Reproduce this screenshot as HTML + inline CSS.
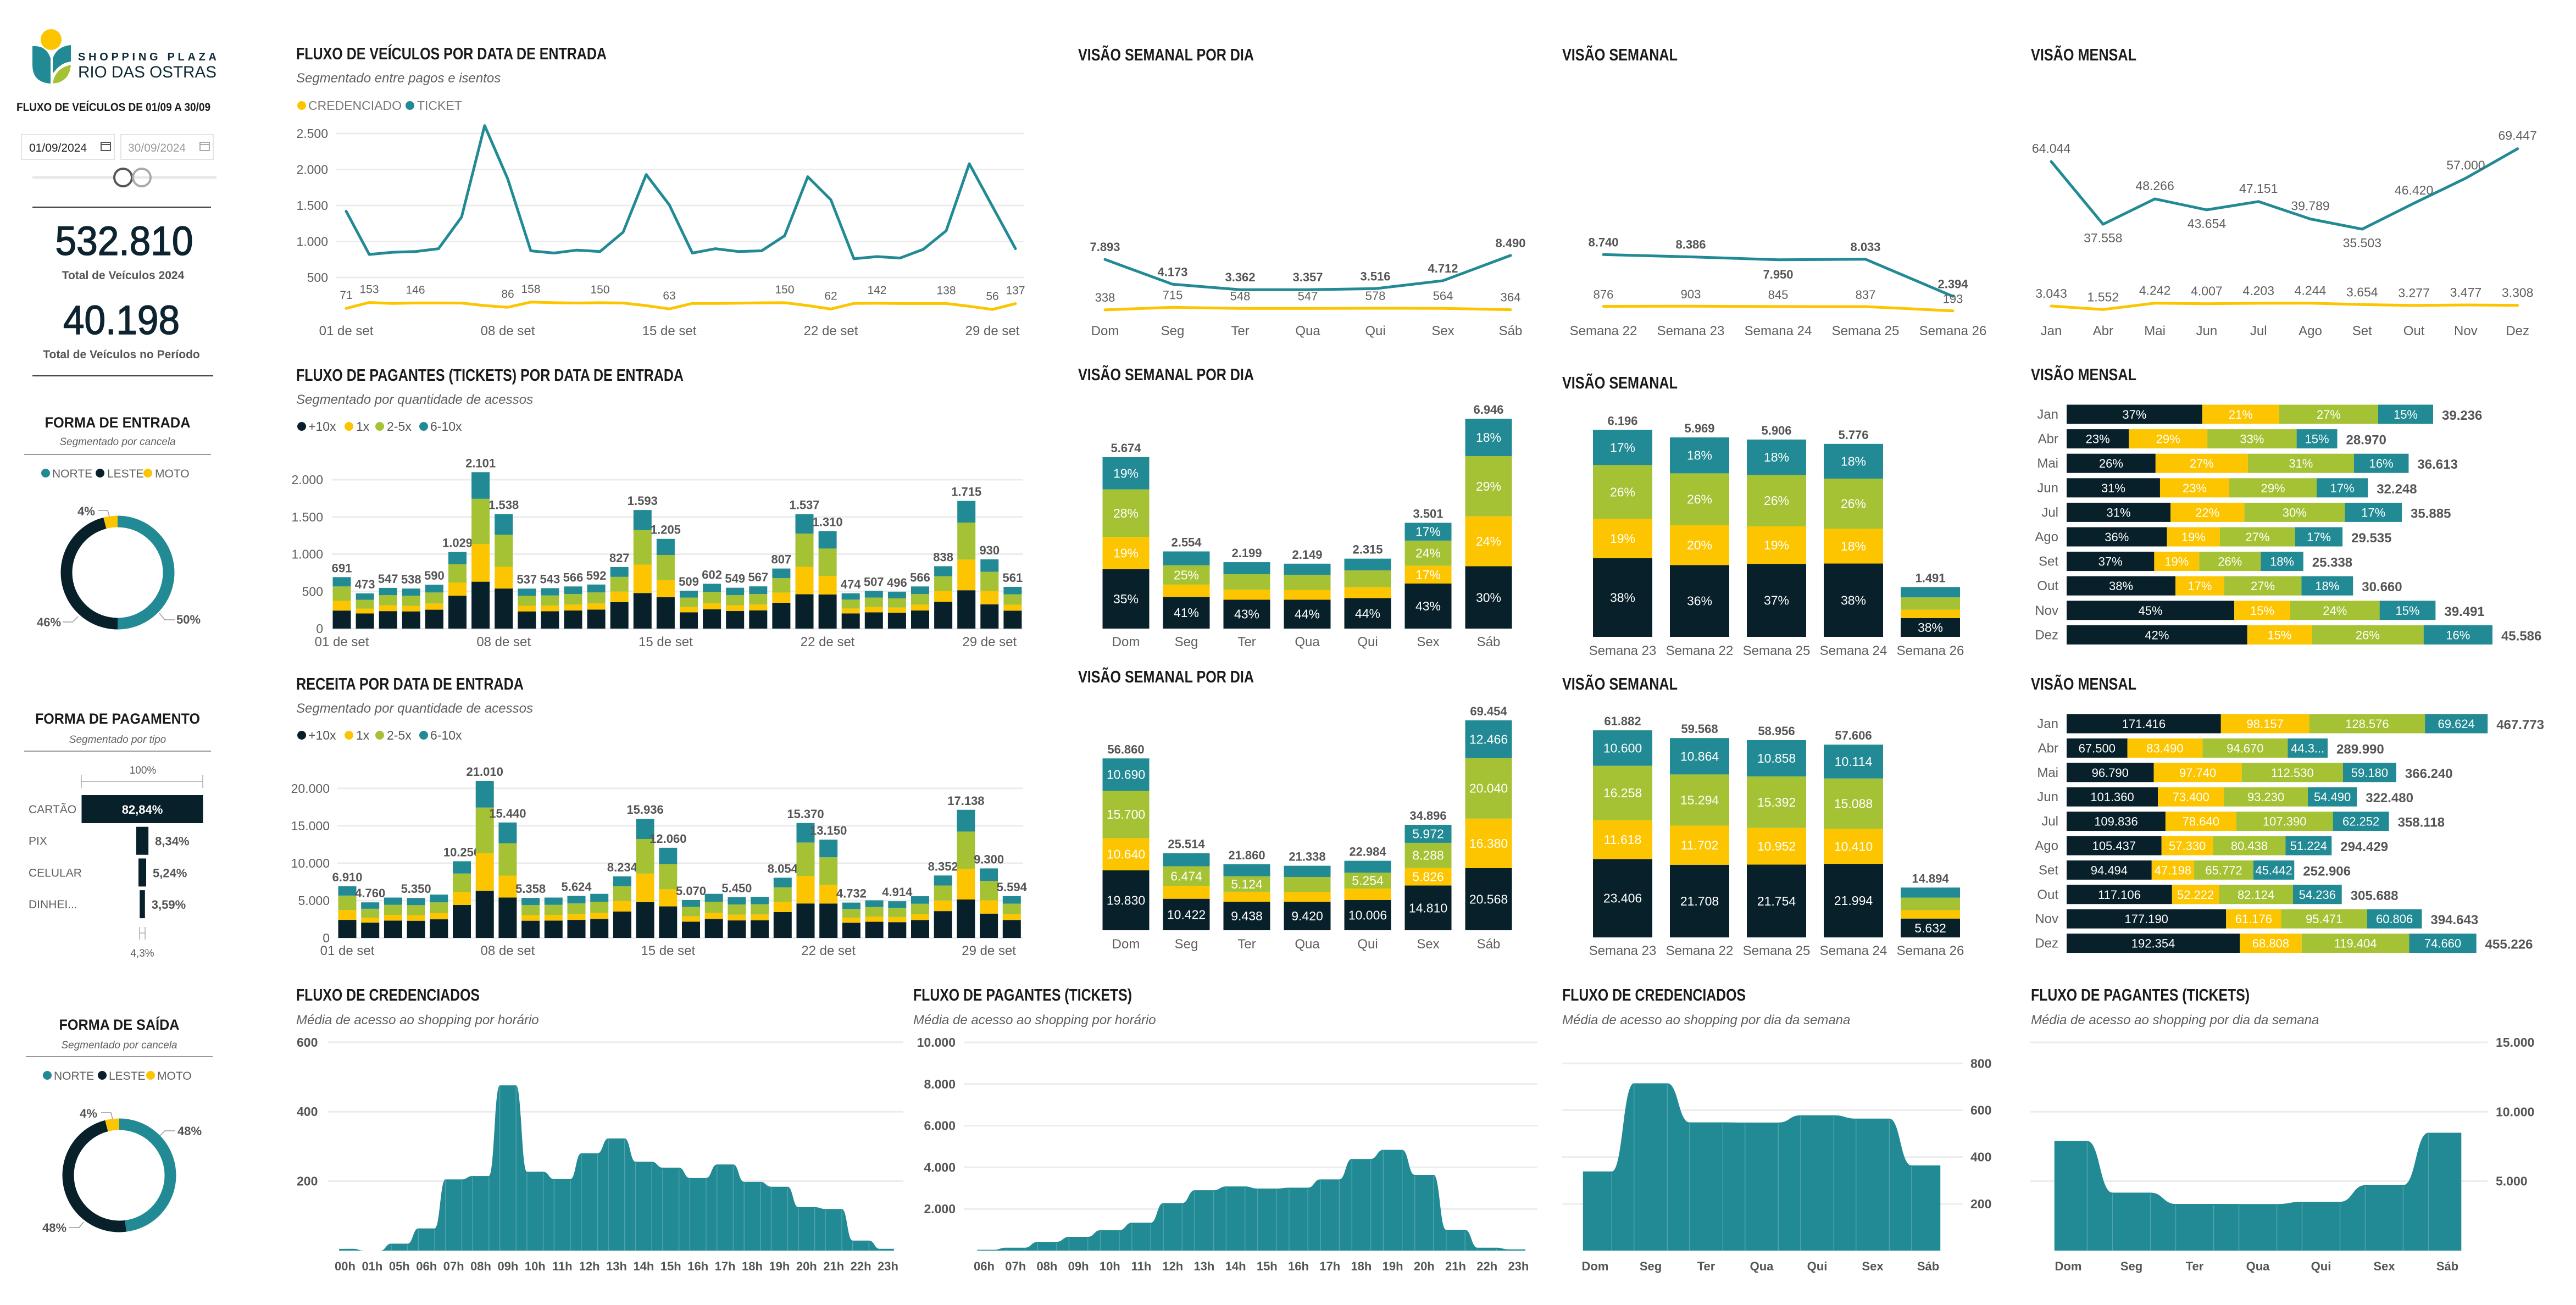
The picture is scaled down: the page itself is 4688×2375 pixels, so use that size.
<!DOCTYPE html>
<html><head><meta charset="utf-8"><title>Fluxo de Veículos - Shopping Plaza Rio das Ostras</title>
<style>
html,body{margin:0;padding:0;background:#fff;}
svg{display:block;font-family:"Liberation Sans",sans-serif;}
</style></head>
<body>
<svg id="dash" xmlns="http://www.w3.org/2000/svg" width="4688" height="2375" viewBox="0 0 4688 2375">
<rect x="0" y="0" width="4688" height="2375" fill="#ffffff"/>

<!-- LEFT PANEL -->
<g>
  <circle cx="93" cy="72" r="19" fill="#fcc500"/>
  <path d="M59,84 Q84,82 92,106 L92,152 Q59,150 59,118 Z" fill="#218a94"/>
  <path d="M96,106 Q104,84 129,82 L129,112 Q110,114 96,134 Z" fill="#218a94"/>
  <path d="M96,152 Q100,124 129,118 Q126,150 96,152 Z" fill="#a5c234"/>
  <text x="142" y="110" font-size="20" font-weight="bold" fill="#0d2b36" textLength="252" lengthAdjust="spacing">SHOPPING PLAZA</text>
  <text x="142" y="141" font-size="30" fill="#0d2b36" textLength="252" lengthAdjust="spacingAndGlyphs">RIO DAS OSTRAS</text>
</g>
<text x="30" y="202" font-size="21" font-weight="bold" fill="#1a1a1a" textLength="353" lengthAdjust="spacingAndGlyphs">FLUXO DE VEÍCULOS DE 01/09 A 30/09</text>
<g>
  <rect x="39" y="245" width="169" height="45" fill="#fff" stroke="#e3e3e3" stroke-width="2"/>
  <text x="53" y="276" font-size="21" fill="#222">01/09/2024</text>
  <rect x="184" y="259" width="17" height="15" fill="none" stroke="#555" stroke-width="2"/>
  <line x1="184" y1="263" x2="201" y2="263" stroke="#555" stroke-width="2"/>
</g>
<g>
  <rect x="220" y="245" width="168" height="45" fill="#fff" stroke="#e3e3e3" stroke-width="2"/>
  <text x="233" y="276" font-size="21" fill="#9a9a9a">30/09/2024</text>
  <rect x="364" y="259" width="17" height="15" fill="none" stroke="#aaa" stroke-width="2"/>
  <line x1="364" y1="263" x2="381" y2="263" stroke="#aaa" stroke-width="2"/>
</g>
<line x1="59" y1="323" x2="394" y2="323" stroke="#e8e8e8" stroke-width="5"/>
<circle cx="224" cy="323" r="16" fill="#fff" stroke="#555" stroke-width="4"/>
<circle cx="258" cy="323" r="16" fill="none" stroke="#aaa" stroke-width="4"/>
<line x1="59" y1="377" x2="384" y2="377" stroke="#333" stroke-width="2"/>
<text x="226" y="464" font-size="74" fill="#0d2430" stroke="#0d2430" stroke-width="1.5" text-anchor="middle" textLength="251" lengthAdjust="spacingAndGlyphs">532.810</text>
<text x="224" y="508" font-size="21" font-weight="bold" fill="#555" text-anchor="middle">Total de Veículos 2024</text>
<text x="221" y="608" font-size="74" fill="#0d2430" stroke="#0d2430" stroke-width="1.5" text-anchor="middle" textLength="212" lengthAdjust="spacingAndGlyphs">40.198</text>
<text x="221" y="652" font-size="21" font-weight="bold" fill="#555" text-anchor="middle">Total de Veículos no Período</text>
<line x1="59" y1="684" x2="388" y2="684" stroke="#333" stroke-width="2"/>

<text x="214" y="778" font-size="27" font-weight="bold" fill="#1a1a1a" text-anchor="middle" textLength="265" lengthAdjust="spacingAndGlyphs">FORMA DE ENTRADA</text>
<text x="214" y="810" font-size="19" font-style="italic" fill="#605e5c" text-anchor="middle">Segmentado por cancela</text>
<line x1="44" y1="827" x2="384" y2="827" stroke="#999" stroke-width="2"/>
<g>
  <circle cx="83" cy="861" r="8" fill="#218a94"/>
  <text x="95" y="869" font-size="21" fill="#605e5c">NORTE</text>
  <circle cx="182" cy="861" r="8" fill="#07202a"/>
  <text x="195" y="869" font-size="21" fill="#605e5c">LESTE</text>
  <circle cx="269" cy="861" r="8" fill="#fcc500"/>
  <text x="282" y="869" font-size="21" fill="#605e5c">MOTO</text>
</g>
<g>
  <text x="157" y="938" font-size="22" font-weight="bold" fill="#555" text-anchor="middle">4%</text>
  <polyline points="178,929 196,929 199,940" fill="none" stroke="#999" stroke-width="1.5"/>
  <text x="89" y="1140" font-size="22" font-weight="bold" fill="#555" text-anchor="middle">46%</text>
  <polyline points="114,1132 132,1132 142,1122" fill="none" stroke="#999" stroke-width="1.5"/>
  <text x="343" y="1135" font-size="22" font-weight="bold" fill="#555" text-anchor="middle">50%</text>
  <polyline points="318,1128 300,1128 290,1116" fill="none" stroke="#999" stroke-width="1.5"/>
</g>

<text x="214" y="1317" font-size="27" font-weight="bold" fill="#1a1a1a" text-anchor="middle" textLength="300" lengthAdjust="spacingAndGlyphs">FORMA DE PAGAMENTO</text>
<text x="214" y="1352" font-size="19" font-style="italic" fill="#605e5c" text-anchor="middle">Segmentado por tipo</text>
<line x1="44" y1="1367" x2="384" y2="1367" stroke="#999" stroke-width="2"/>
<text x="260" y="1216" font-size="1" fill="none"> </text>
<text x="260" y="1408" font-size="19" fill="#605e5c" text-anchor="middle">100%</text>
<g>
  <line x1="148" y1="1422" x2="369" y2="1422" stroke="#aaa" stroke-width="1.5"/>
  <line x1="148" y1="1410" x2="148" y2="1434" stroke="#aaa" stroke-width="1.5"/>
  <line x1="369" y1="1410" x2="369" y2="1434" stroke="#aaa" stroke-width="1.5"/>
</g>
<g>
  <line x1="254" y1="1687" x2="254" y2="1710" stroke="#aaa" stroke-width="1.5"/>
  <line x1="264" y1="1687" x2="264" y2="1710" stroke="#aaa" stroke-width="1.5"/>
  <line x1="254" y1="1698" x2="264" y2="1698" stroke="#aaa" stroke-width="1.5"/>
</g>
<text x="259" y="1741" font-size="19" fill="#605e5c" text-anchor="middle">4,3%</text>

<text x="217" y="1874" font-size="27" font-weight="bold" fill="#1a1a1a" text-anchor="middle" textLength="219" lengthAdjust="spacingAndGlyphs">FORMA DE SAÍDA</text>
<text x="217" y="1908" font-size="19" font-style="italic" fill="#605e5c" text-anchor="middle">Segmentado por cancela</text>
<line x1="47" y1="1923" x2="387" y2="1923" stroke="#999" stroke-width="2"/>
<g>
  <circle cx="86" cy="1957" r="8" fill="#218a94"/>
  <text x="98" y="1965" font-size="21" fill="#605e5c">NORTE</text>
  <circle cx="186" cy="1957" r="8" fill="#07202a"/>
  <text x="198" y="1965" font-size="21" fill="#605e5c">LESTE</text>
  <circle cx="274" cy="1957" r="8" fill="#fcc500"/>
  <text x="286" y="1965" font-size="21" fill="#605e5c">MOTO</text>
</g>
<g>
  <text x="161" y="2034" font-size="22" font-weight="bold" fill="#555" text-anchor="middle">4%</text>
  <polyline points="184,2025 202,2025 205,2037" fill="none" stroke="#999" stroke-width="1.5"/>
  <text x="345" y="2066" font-size="22" font-weight="bold" fill="#555" text-anchor="middle">48%</text>
  <polyline points="318,2058 300,2058 290,2068" fill="none" stroke="#999" stroke-width="1.5"/>
  <text x="99" y="2242" font-size="22" font-weight="bold" fill="#555" text-anchor="middle">48%</text>
  <polyline points="126,2234 144,2234 152,2224" fill="none" stroke="#999" stroke-width="1.5"/>
</g>

<!-- TITLES -->
<text x="539" y="108" font-size="31" font-weight="bold" fill="#1a1a1a" textLength="565" lengthAdjust="spacingAndGlyphs">FLUXO DE VEÍCULOS POR DATA DE ENTRADA</text>
<text x="539" y="150" font-size="24" font-style="italic" fill="#605e5c">Segmentado entre pagos e isentos</text>
<g>
  <circle cx="549" cy="192" r="8" fill="#fcc500"/>
  <text x="561" y="200" font-size="23" fill="#777">CREDENCIADO</text>
  <circle cx="746" cy="192" r="8" fill="#218a94"/>
  <text x="759" y="200" font-size="23" fill="#777">TICKET</text>
</g>
<text x="1962" y="110" font-size="31" font-weight="bold" fill="#1a1a1a" textLength="320" lengthAdjust="spacingAndGlyphs">VISÃO SEMANAL POR DIA</text>
<text x="2843" y="110" font-size="31" font-weight="bold" fill="#1a1a1a" textLength="210" lengthAdjust="spacingAndGlyphs">VISÃO SEMANAL</text>
<text x="3696" y="110" font-size="31" font-weight="bold" fill="#1a1a1a" textLength="192" lengthAdjust="spacingAndGlyphs">VISÃO MENSAL</text>

<text x="539" y="693" font-size="31" font-weight="bold" fill="#1a1a1a" textLength="705" lengthAdjust="spacingAndGlyphs">FLUXO DE PAGANTES (TICKETS) POR DATA DE ENTRADA</text>
<text x="539" y="735" font-size="24" font-style="italic" fill="#605e5c">Segmentado por quantidade de acessos</text>
<text x="1962" y="692" font-size="31" font-weight="bold" fill="#1a1a1a" textLength="320" lengthAdjust="spacingAndGlyphs">VISÃO SEMANAL POR DIA</text>
<text x="2843" y="707" font-size="31" font-weight="bold" fill="#1a1a1a" textLength="210" lengthAdjust="spacingAndGlyphs">VISÃO SEMANAL</text>
<text x="3696" y="692" font-size="31" font-weight="bold" fill="#1a1a1a" textLength="192" lengthAdjust="spacingAndGlyphs">VISÃO MENSAL</text>

<text x="539" y="1255" font-size="31" font-weight="bold" fill="#1a1a1a" textLength="414" lengthAdjust="spacingAndGlyphs">RECEITA POR DATA DE ENTRADA</text>
<text x="539" y="1297" font-size="24" font-style="italic" fill="#605e5c">Segmentado por quantidade de acessos</text>
<text x="1962" y="1242" font-size="31" font-weight="bold" fill="#1a1a1a" textLength="320" lengthAdjust="spacingAndGlyphs">VISÃO SEMANAL POR DIA</text>
<text x="2843" y="1255" font-size="31" font-weight="bold" fill="#1a1a1a" textLength="210" lengthAdjust="spacingAndGlyphs">VISÃO SEMANAL</text>
<text x="3696" y="1255" font-size="31" font-weight="bold" fill="#1a1a1a" textLength="192" lengthAdjust="spacingAndGlyphs">VISÃO MENSAL</text>

<text x="539" y="1821" font-size="31" font-weight="bold" fill="#1a1a1a" textLength="334" lengthAdjust="spacingAndGlyphs">FLUXO DE CREDENCIADOS</text>
<text x="539" y="1864" font-size="24" font-style="italic" fill="#605e5c">Média de acesso ao shopping por horário</text>
<text x="1662" y="1821" font-size="31" font-weight="bold" fill="#1a1a1a" textLength="398" lengthAdjust="spacingAndGlyphs">FLUXO DE PAGANTES (TICKETS)</text>
<text x="1662" y="1864" font-size="24" font-style="italic" fill="#605e5c">Média de acesso ao shopping por horário</text>
<text x="2843" y="1821" font-size="31" font-weight="bold" fill="#1a1a1a" textLength="334" lengthAdjust="spacingAndGlyphs">FLUXO DE CREDENCIADOS</text>
<text x="2843" y="1864" font-size="24" font-style="italic" fill="#605e5c">Média de acesso ao shopping por dia da semana</text>
<text x="3696" y="1821" font-size="31" font-weight="bold" fill="#1a1a1a" textLength="398" lengthAdjust="spacingAndGlyphs">FLUXO DE PAGANTES (TICKETS)</text>
<text x="3696" y="1864" font-size="24" font-style="italic" fill="#605e5c">Média de acesso ao shopping por dia da semana</text>

<g>
  <circle cx="549" cy="776" r="8" fill="#07202a"/>
  <text x="561" y="784" font-size="23" fill="#555">+10x</text>
  <circle cx="635" cy="776" r="8" fill="#fcc500"/>
  <text x="648" y="784" font-size="23" fill="#555">1x</text>
  <circle cx="691" cy="776" r="8" fill="#a5c234"/>
  <text x="704" y="784" font-size="23" fill="#555">2-5x</text>
  <circle cx="771" cy="776" r="8" fill="#218a94"/>
  <text x="783" y="784" font-size="23" fill="#555">6-10x</text>
</g>
<g>
  <circle cx="549" cy="1338" r="8" fill="#07202a"/>
  <text x="561" y="1346" font-size="23" fill="#555">+10x</text>
  <circle cx="635" cy="1338" r="8" fill="#fcc500"/>
  <text x="648" y="1346" font-size="23" fill="#555">1x</text>
  <circle cx="691" cy="1338" r="8" fill="#a5c234"/>
  <text x="704" y="1346" font-size="23" fill="#555">2-5x</text>
  <circle cx="771" cy="1338" r="8" fill="#218a94"/>
  <text x="783" y="1346" font-size="23" fill="#555">6-10x</text>
</g>
</svg>

<script>
// ===== DATA =====
const entradaValues = [50, 46, 4];
const saidaValues = [48, 48, 4];
const pagCats = ['CARTÃO', 'PIX', 'CELULAR', 'DINHEI...'];
const pagVals = [82.84, 8.34, 5.24, 3.59];

const c1Ticket = [1420,820,850,860,900,1340,2610,1870,870,840,880,860,1130,1930,1510,840,900,860,870,1080,1900,1580,760,790,770,890,1150,2080,1490,900];
const c1Cred = [71,153,140,146,146,145,110,86,158,150,145,150,145,110,63,140,140,143,148,150,110,62,140,142,138,138,138,100,56,137];
const c1CredShown = [0,1,3,7,8,11,14,19,21,23,26,28,29];
const c1Ticks = [500,1000,1500,2000,2500];
const dayLabels = ['01 de set','08 de set','15 de set','22 de set','29 de set'];
const dayLabelIdx = [0,7,14,21,28];

const weekdayCats = ['Dom','Seg','Ter','Qua','Qui','Sex','Sáb'];
const c2Ticket = [7893,4173,3362,3357,3516,4712,8490];
const c2Cred = [338,715,548,547,578,564,364];

const c3Cats = ['Semana 22','Semana 23','Semana 24','Semana 25','Semana 26'];
const c3Ticket = [8740,8386,7950,8033,2394];
const c3Cred = [876,903,845,837,193];
const c3LabelBelow = [0,0,1,0,0];

const monthCats = ['Jan','Abr','Mai','Jun','Jul','Ago','Set','Out','Nov','Dez'];
const c4Ticket = [64044,37558,48266,43654,47151,39789,35503,46420,57000,69447];
const c4Cred = [3043,1552,4242,4007,4203,4244,3654,3277,3477,3308];
const c4LabelBelow = [0,1,0,1,0,0,1,0,0,0];

const c5Dark = [242,203,235,231,254,442,630,538,231,233,243,255,356,478,422,219,259,236,244,347,461,459,204,218,213,243,360,515,326,241];
const c5Yellow = [131,66,77,75,83,175,504,292,75,76,79,83,141,382,229,71,84,77,79,137,369,249,66,71,69,79,142,412,177,79];
const c5Green = [193,118,137,135,148,247,609,431,134,136,142,148,198,462,337,127,151,137,142,194,446,367,119,127,124,142,201,497,260,140];
const c5Teal = [125,86,98,97,105,165,358,277,97,98,102,106,132,271,217,92,108,99,102,129,261,235,85,91,90,102,135,291,167,101];
const c5Ticks = [0,500,1000,1500,2000];

const c6Dark = [2419,2047,2322,2300,2494,4410,6303,5404,2304,2322,2418,2537,3541,4781,4221,2180,2537,2344,2365,3463,4611,4603,2035,2163,2113,2399,3591,5141,3255,2405];
const c6Yellow = [1313,666,756,749,812,1744,5042,2934,750,756,787,826,1400,3825,2291,710,826,763,770,1369,3689,2499,662,704,688,781,1420,4113,1767,783];
const c6Green = [1935,1190,1350,1338,1450,2461,6093,4323,1340,1350,1406,1475,1976,4621,3377,1268,1475,1363,1375,1933,4457,3682,1183,1258,1229,1395,2004,4970,2604,1399];
const c6Teal = [1243,857,972,963,1044,1641,3572,2779,964,972,1013,1062,1317,2709,2171,912,1062,980,990,1289,2613,2366,852,905,884,1005,1337,2914,1674,1007];
const c6LabelShown = [1,1,0,1,0,1,1,1,1,0,1,0,1,1,1,1,0,1,0,1,1,1,1,0,1,0,1,1,1,1];
const c6Ticks = [0,5000,10000,15000,20000];

const c7Total = [5674,2554,2199,2149,2315,3501,6946];
const c7PDark = [35,41,43,44,44,43,30];
const c7PYellow = [19,16,15,15,16,17,24];
const c7PGreen = [28,25,23,23,24,24,29];
const c7PTeal = [19,18,18,17,17,17,18];

const c8Cats = ['Semana 23','Semana 22','Semana 25','Semana 24','Semana 26'];
const c8Total = [6196,5969,5906,5776,1491];
const c8PDark = [38,36,37,38,38];
const c8PYellow = [19,20,19,18,17];
const c8PGreen = [26,26,26,26,25];
const c8PTeal = [17,18,18,18,21];

const c9Total = [39236,28970,36613,32248,35885,29535,25338,30660,39491,45586];
const c9PDark = [37,23,26,31,31,36,37,38,45,42];
const c9PYellow = [21,29,27,23,22,19,19,17,15,15];
const c9PGreen = [27,33,31,29,30,27,26,27,24,26];
const c9PTeal = [15,15,16,17,17,17,18,18,15,16];

const c10Dark = [19830,10422,9438,9420,10006,14810,20568];
const c10Yellow = [10640,4275,3300,3288,3794,5826,16380];
const c10Green = [15700,6474,5124,4931,5254,8288,20040];
const c10Teal = [10690,4343,3998,3699,3930,5972,12466];

const c11Dark = [23406,21708,21754,21994,5632];
const c11Yellow = [11618,11702,10952,10410,2503];
const c11Green = [16258,15294,15392,15088,3755];
const c11Teal = [10600,10864,10858,10114,3004];

const c12Dark = [171416,67500,96790,101360,109836,105437,94494,117106,177190,192354];
const c12Yellow = [98157,83490,97740,73400,78640,57330,47198,52222,61176,68808];
const c12Green = [128576,94670,112530,93230,107390,80438,65772,82124,95471,119404];
const c12Teal = [69624,44330,59180,54490,62252,51224,45442,54236,60806,74660];

const hourCatsCred = ['00h','01h','05h','06h','07h','08h','09h','10h','11h','12h','13h','14h','15h','16h','17h','18h','19h','20h','21h','22h','23h'];
const c13Values = [5,0,20,64,205,215,476,227,206,280,323,256,239,209,248,198,184,125,120,29,5];
const c13Ticks = [200,400,600];
const hourCatsPag = ['06h','07h','08h','09h','10h','11h','12h','13h','14h','15h','16h','17h','18h','19h','20h','21h','22h','23h'];
const c14Values = [40,140,420,660,980,1340,2280,2900,3080,2980,3020,3420,4400,4840,3640,1000,140,60];
const c14Ticks = [2000,4000,6000,8000,10000];
const c15Values = [338,715,548,547,578,564,364];
const c15Ticks = [200,400,600,800];
const c16Values = [7893,4173,3362,3357,3516,4712,8490];
const c16Ticks = [5000,10000,15000];

// ===== HELPERS =====
const svg = document.getElementById('dash');
const NS = 'http://www.w3.org/2000/svg';
const COL = {dark:'#07202a', yellow:'#fcc500', green:'#a5c234', teal:'#218a94'};
const SEGC = [COL.dark, COL.yellow, COL.green, COL.teal];
function mk(tag, a){ const e = document.createElementNS(NS, tag); for (const k in a) e.setAttribute(k, a[k]); svg.appendChild(e); return e; }
function tx(s, a){ const e = mk('text', a); e.textContent = s; return e; }
function fmt(n){ return String(Math.round(n)).replace(/\B(?=(\d{3})+(?!\d))/g, '.'); }

function gridY(ticks, yf, x0, x1, lx, anchor, bold, prefix){
  ticks.forEach(t => {
    const l = mk('line', {x1:x0, x2:x1, y1:yf(t), y2:yf(t), stroke:'#ececec', 'stroke-width':3});
    
    
    const s = tx(fmt(t), {x:lx, y:yf(t)+8, 'font-size':23, 'text-anchor':anchor, fill:bold?'#555':'#605e5c', 'font-weight':bold?'bold':'normal'});
    
    
  });
}
function xLabels(labels, xf, y, bold, prefix, size){
  labels.forEach((c,i) => {
    const s = tx(c, {x:xf(i), y:y, 'font-size':size||24, 'text-anchor':'middle', fill:bold?'#555':'#605e5c', 'font-weight':bold?'bold':'normal'});
    
    
  });
}
function poly(vals, xf, yf, color, name){
  const d = vals.map((v,i) => (i?'L':'M') + xf(i).toFixed(1) + ',' + yf(v).toFixed(1)).join(' ');
  const p = mk('path', {d:d, fill:'none', stroke:color, 'stroke-width':5, 'stroke-linejoin':'round', 'stroke-linecap':'round'});
  
  
}
function vlabel(s, x, y, bold, name, color, size){
  const t = tx(s, {x:x, y:y, 'font-size':size||22, 'text-anchor':'middle', fill:color||'#555', 'font-weight':bold?'bold':'normal'});
  
  
}
// segs: array of 4 arrays (dark,yellow,green,teal); labelFn(k,i,val,h) -> string
function vstack(segs, xf, yf, bw, labelFn, totalShown, prefix){
  const n = segs[0].length;
  for (let i = 0; i < n; i++){
    let acc = 0;
    for (let k = 0; k < 4; k++){
      const v = segs[k][i];
      const y0 = yf(acc), y1 = yf(acc + v);
      const r = mk('rect', {x:xf(i)-bw/2, y:y1, width:bw, height:Math.max(0, y0-y1), fill:SEGC[k]});
      
      
      const lab = labelFn ? labelFn(k, i, v, y0-y1) : '';
      if (lab){
        const t = tx(lab, {x:xf(i), y:(y0+y1)/2+8, 'font-size':23, 'text-anchor':'middle', fill:'#fff'});
        
        
      }
      acc += v;
    }
    if (!totalShown || totalShown[i]){
      const t = tx(fmt(acc), {x:xf(i), y:yf(acc)-9, 'font-size':22, 'text-anchor':'middle', fill:'#555', 'font-weight':'bold'});
      
      
    }
  }
}
function hstack(segs, yf, xf, bh, labelFn, prefix, cats){
  const n = segs[0].length;
  for (let i = 0; i < n; i++){
    let acc = 0;
    const c = tx(cats[i], {x:3746, y:yf(i)+8, 'font-size':24, 'text-anchor':'end', fill:'#605e5c'});
    
    
    for (let k = 0; k < 4; k++){
      const v = segs[k][i];
      const x0 = xf(acc), x1 = xf(acc+v);
      const r = mk('rect', {x:x0, y:yf(i)-bh/2, width:x1-x0, height:bh, fill:SEGC[k]});
      
      
      const lab = labelFn(k, i, v, x1-x0);
      const t = tx(lab, {x:(x0+x1)/2, y:yf(i)+8, 'font-size':22, 'text-anchor':'middle', fill:'#fff'});
      
      
      acc += v;
    }
    const t = tx(fmt(acc), {x:xf(acc)+16, y:yf(i)+10, 'font-size':24, fill:'#555', 'font-weight':'bold'});
    
    
  }
}
function pctSegs(total, pd, py, pg, pt){
  const out = [[],[],[],[]];
  total.forEach((T,i) => {
    const s = pd[i]+py[i]+pg[i]+pt[i];
    out[0].push(T*pd[i]/s); out[1].push(T*py[i]/s); out[2].push(T*pg[i]/s); out[3].push(T*pt[i]/s);
  });
  return out;
}
function area(vals, xf, yf, step, prefix){
  const base = yf(0), h = 0.3*step, e = 0.22*step;
  let d = 'M' + (xf(0)-e) + ',' + base + ' L' + (xf(0)-e) + ',' + yf(vals[0]);
  for (let i = 0; i < vals.length; i++){
    const xa = xf(i) + h, ya = yf(vals[i]);
    d += ' L' + xa.toFixed(1) + ',' + ya.toFixed(1);
    if (i < vals.length-1){
      const xb = xf(i+1) - h, yb = yf(vals[i+1]), m = (xa+xb)/2;
      d += ' C' + m.toFixed(1) + ',' + ya.toFixed(1) + ' ' + m.toFixed(1) + ',' + yb.toFixed(1) + ' ' + xb.toFixed(1) + ',' + yb.toFixed(1);
    }
  }
  const last = vals.length-1;
  d += ' L' + (xf(last)+e) + ',' + yf(vals[last]) + ' L' + (xf(last)+e) + ',' + base + ' Z';
  const p = mk('path', {d:d, fill:COL.teal});
  
  
  vals.forEach((v,i) => {
    [-h, h].forEach(o => {
      const l = mk('line', {x1:xf(i)+o, x2:xf(i)+o, y1:base, y2:yf(v)+2, stroke:'rgba(255,255,255,0.22)', 'stroke-width':1.5});
      
      
    });
  });
}
function donut(cx, cy, vals, colors, prefix){
  const r = 93, tot = vals.reduce((a,b)=>a+b,0);
  let a0 = 0;
  vals.forEach((v,i) => {
    const a1 = a0 + v/tot*2*Math.PI;
    const p0 = [cx + r*Math.sin(a0), cy - r*Math.cos(a0)];
    const p1 = [cx + r*Math.sin(a1), cy - r*Math.cos(a1)];
    const large = (a1-a0) > Math.PI ? 1 : 0;
    const p = mk('path', {d:'M'+p0[0]+','+p0[1]+' A'+r+','+r+' 0 '+large+' 1 '+p1[0]+','+p1[1], fill:'none', stroke:colors[i], 'stroke-width':21});
    
    
    a0 = a1;
  });
}

// ===== LEFT PANEL CHARTS =====
donut(214, 1042, entradaValues, [COL.teal, COL.dark, COL.yellow], 'entrada-donut');
donut(217, 2139, saidaValues, [COL.teal, COL.dark, COL.yellow], 'saida-donut');
const funW = v => v*2.668;
pagVals.forEach((v,i) => {
  const y0 = 1447 + i*57.7, w = funW(v);
  const r = mk('rect', {x:259-w/2, y:y0, width:w, height:51, fill:COL.dark});
  
  
  const c = tx(pagCats[i], {x:52, y:y0+33, 'font-size':21, fill:'#605e5c'});
  
  
  const s = v.toFixed(2).replace('.', ',') + '%';
  const t = i === 0 ? tx(s, {x:259, y:y0+34, 'font-size':22, 'font-weight':'bold', 'text-anchor':'middle', fill:'#fff'})
                    : tx(s, {x:259+w/2+12, y:y0+34, 'font-size':22, 'font-weight':'bold', fill:'#555'});
  
  
});

// ===== CHART 1 =====
const x1 = i => 630 + i*42.0;
const y1 = v => 570.5 - v*0.131;
gridY(c1Ticks, y1, 612, 1864, 597, 'end', false, 'veiculos');
poly(c1Ticket, x1, y1, COL.teal, 'ticket-line');
poly(c1Cred, x1, y1, COL.yellow, 'credenciado-line');
c1CredShown.forEach(i => vlabel(String(c1Cred[i]), x1(i), y1(c1Cred[i])-17, false, 'credenciado-value-label', '#605e5c', 21));
dayLabelIdx.forEach((d,k) => {
  const t = tx(dayLabels[k], {x:x1(d), y:610, 'font-size':24, 'text-anchor':'middle', fill:'#605e5c'});
  
  
});

// ===== CHART 2 =====
const x2 = i => 2011 + i*123;
const y2 = v => 568 - v*0.01214;
poly(c2Ticket, x2, y2, COL.teal, 'semanal-dia-ticket-line');
poly(c2Cred, x2, y2, COL.yellow, 'semanal-dia-cred-line');
c2Ticket.forEach((v,i) => vlabel(fmt(v), x2(i), y2(v)-15, true, 'semanal-dia-ticket-label'));
c2Cred.forEach((v,i) => vlabel(fmt(v), x2(i), y2(v)-15, false, 'semanal-dia-cred-label', '#605e5c'));
xLabels(weekdayCats, x2, 610, false, 'semanal-dia-line');

// ===== CHART 3 =====
const x3 = i => 2918 + i*159;
const y3 = v => 568 - v*0.01198;
poly(c3Ticket, x3, y3, COL.teal, 'semanal-ticket-line');
poly(c3Cred, x3, y3, COL.yellow, 'semanal-cred-line');
c3Ticket.forEach((v,i) => vlabel(fmt(v), x3(i), c3LabelBelow[i] ? y3(v)+34 : y3(v)-15, true, 'semanal-ticket-label'));
c3Cred.forEach((v,i) => vlabel(fmt(v), x3(i), y3(v)-14, false, 'semanal-cred-label', '#605e5c'));
xLabels(c3Cats, x3, 610, false, 'semanal-line');

// ===== CHART 4 =====
const x4 = i => 3733 + i*94.3;
const y4 = v => 570 - v*0.00431;
poly(c4Ticket, x4, y4, COL.teal, 'mensal-ticket-line');
poly(c4Cred, x4, y4, COL.yellow, 'mensal-cred-line');
c4Ticket.forEach((v,i) => vlabel(fmt(v), x4(i), c4LabelBelow[i] ? y4(v)+33 : y4(v)-16, false, 'mensal-ticket-label', '#605e5c', 23));
c4Cred.forEach((v,i) => vlabel(fmt(v), x4(i), y4(v)-15, false, 'mensal-cred-label', '#605e5c', 23));
xLabels(monthCats, x4, 610, false, 'mensal-line');

// ===== CHART 5 =====
const x5 = i => 622 + i*42.1;
const y5 = v => 1144 - v*0.1355;
gridY(c5Ticks, y5, 604, 1862, 588, 'end', false, 'pagantes-data');
vstack([c5Dark, c5Yellow, c5Green, c5Teal], x5, y5, 33, null, null, 'pagantes-data');
dayLabelIdx.forEach((d,k) => {
  const t = tx(dayLabels[k], {x:x5(d), y:1176, 'font-size':24, 'text-anchor':'middle', fill:'#605e5c'});
  
  
});

// ===== CHART 6 =====
const x6 = i => 632 + i*41.7;
const y6 = v => 1707 - v*0.01361;
gridY(c6Ticks, y6, 614, 1862, 600, 'end', false, 'receita');
vstack([c6Dark, c6Yellow, c6Green, c6Teal], x6, y6, 33, null, c6LabelShown, 'receita');
dayLabelIdx.forEach((d,k) => {
  const t = tx(dayLabels[k], {x:x6(d), y:1738, 'font-size':24, 'text-anchor':'middle', fill:'#605e5c'});
  
  
});

// ===== CHART 7 =====
const x7 = i => 2049 + i*110;
const y7 = v => 1144 - v*0.055;
const c7Pcts = [c7PDark, c7PYellow, c7PGreen, c7PTeal];
vstack(pctSegs(c7Total, c7PDark, c7PYellow, c7PGreen, c7PTeal), x7, y7, 85, (k,i,v,h) => h >= 31 ? c7Pcts[k][i] + '%' : '', null, 'semanal-dia-bar');
xLabels(weekdayCats, x7, 1176, false, 'semanal-dia-bar');

// ===== CHART 8 =====
const x8 = i => 2953 + i*140;
const y8 = v => 1159 - v*0.0608;
const c8Pcts = [c8PDark, c8PYellow, c8PGreen, c8PTeal];
vstack(pctSegs(c8Total, c8PDark, c8PYellow, c8PGreen, c8PTeal), x8, y8, 108, (k,i,v,h) => h >= 31 ? c8Pcts[k][i] + '%' : '', null, 'semanal-bar');
xLabels(c8Cats, x8, 1192, false, 'semanal-bar');

// ===== CHART 9 =====
const y9 = i => 754 + i*44.6;
const xs9 = v => 3761 + v*0.017;
const c9Pcts = [c9PDark, c9PYellow, c9PGreen, c9PTeal];
hstack(pctSegs(c9Total, c9PDark, c9PYellow, c9PGreen, c9PTeal), y9, xs9, 35, (k,i) => c9Pcts[k][i] + '%', 'mensal-bar', monthCats);

// ===== CHART 10 =====
const y10 = v => 1693 - v*0.0055;
vstack([c10Dark, c10Yellow, c10Green, c10Teal], x7, y10, 85, (k,i,v) => v > 5000 ? fmt(v) : '', null, 'receita-dia');
xLabels(weekdayCats, x7, 1726, false, 'receita-dia');

// ===== CHART 11 =====
const y11 = v => 1706 - v*0.00609;
vstack([c11Dark, c11Yellow, c11Green, c11Teal], x8, y11, 108, (k,i,v) => v > 5000 ? fmt(v) : '', null, 'receita-semana');
xLabels(c8Cats, x8, 1738, false, 'receita-semana');

// ===== CHART 12 =====
const y12 = i => 1317 + i*44.4;
const xs12 = v => 3761 + v*0.001638;
hstack([c12Dark, c12Yellow, c12Green, c12Teal], y12, xs12, 35, (k,i,v,w) => { const s = fmt(v); return w < 74 ? s.slice(0,4) + '...' : s; }, 'receita-mes', monthCats);

// ===== CHART 13 =====
const x13 = i => 628 + i*49.4;
const y13 = v => 2276 - v*0.632;
gridY(c13Ticks, y13, 597, 1644, 540, 'start', true, 'cred-hora');
area(c13Values, x13, y13, 49.4, 'cred-hora');
xLabels(hourCatsCred, x13, 2312, true, 'cred-hora', 22);

// ===== CHART 14 =====
const x14 = i => 1791 + i*57.2;
const y14 = v => 2276 - v*0.0379;
gridY(c14Ticks, y14, 1754, 2798, 1739, 'end', true, 'pag-hora');
area(c14Values, x14, y14, 57.2, 'pag-hora');
xLabels(hourCatsPag, x14, 2312, true, 'pag-hora', 22);

// ===== CHART 15 =====
const x15 = i => 2903 + i*101;
const y15 = v => 2276 - v*0.4259;
gridY(c15Ticks, y15, 2843, 3572, 3586, 'start', true, 'cred-dia');
area(c15Values, x15, y15, 101, 'cred-dia');
xLabels(weekdayCats, x15, 2312, true, 'cred-dia', 22);

// ===== CHART 16 =====
const x16 = i => 3764 + i*115;
const y16 = v => 2276 - v*0.02527;
gridY(c16Ticks, y16, 3695, 4527, 4542, 'start', true, 'pag-dia');
area(c16Values, x16, y16, 115, 'pag-dia');
xLabels(weekdayCats, x16, 2312, true, 'pag-dia', 22);
</script>
</body></html>
